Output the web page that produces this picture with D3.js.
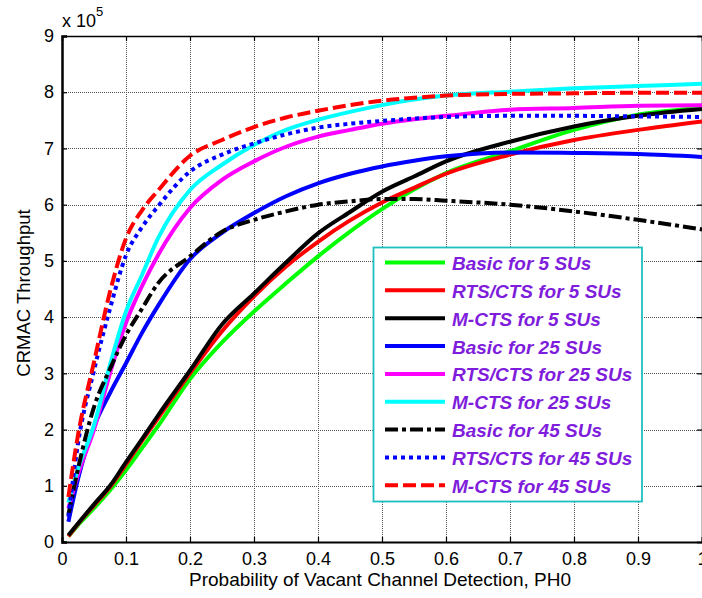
<!DOCTYPE html>
<html><head><meta charset="utf-8">
<script src="https://cdn.jsdelivr.net/npm/d3@7"></script>
<style>
html,body{margin:0;padding:0;background:#fff;}
svg{display:block;font-family:"Liberation Sans",Arial,sans-serif;}
</style></head>
<body>
<svg id="chart" width="702" height="598"></svg>
<script>
// x values: probability of vacant channel detection, PH0
const xValues = [0.01,0.025,0.05,0.075,0.1,0.125,0.15,0.2,0.25,0.3,0.35,0.4,0.45,0.5,0.55,0.6,0.7,0.8,0.9,1.0];
// throughput values in units of 10^5
const basic5   = [0.10,0.30,0.60,0.92,1.28,1.67,2.06,2.90,3.55,4.10,4.60,5.08,5.52,5.92,6.27,6.56,6.95,7.33,7.60,7.72];
const rts5     = [0.10,0.32,0.65,0.98,1.38,1.80,2.20,3.00,3.75,4.37,4.90,5.34,5.72,6.04,6.30,6.55,6.89,7.15,7.33,7.48];
const mcts5    = [0.12,0.33,0.67,1.00,1.42,1.83,2.25,3.05,3.87,4.42,4.97,5.49,5.87,6.23,6.50,6.77,7.12,7.39,7.58,7.70];
const basic25  = [0.36,1.12,2.05,2.65,3.18,3.72,4.20,5.03,5.50,5.85,6.15,6.38,6.55,6.68,6.78,6.86,6.93,6.92,6.90,6.85];
const rts25    = [0.60,1.20,2.00,3.00,3.90,4.55,5.10,5.94,6.44,6.77,7.03,7.21,7.33,7.44,7.52,7.58,7.69,7.72,7.76,7.77];
const mcts25   = [0.70,1.30,2.08,3.15,4.10,4.75,5.40,6.26,6.71,7.06,7.33,7.51,7.65,7.77,7.87,7.94,8.01,8.07,8.11,8.15];
const basic45  = [0.48,1.30,2.40,3.08,3.68,4.15,4.60,5.08,5.52,5.73,5.88,6.00,6.06,6.10,6.10,6.07,6.00,5.88,5.73,5.56];
const rts45    = [0.45,1.75,3.05,4.15,5.10,5.60,5.97,6.59,6.89,7.09,7.25,7.37,7.44,7.49,7.53,7.56,7.58,7.58,7.57,7.56];
const mcts45   = [0.80,1.90,3.20,4.45,5.40,5.90,6.25,6.87,7.15,7.38,7.55,7.67,7.77,7.85,7.90,7.94,7.97,7.98,7.99,7.99];

const seriesNames = ["Basic for 5 SUs","RTS/CTS for 5 SUs","M-CTS for 5 SUs","Basic for 25 SUs","RTS/CTS for 25 SUs","M-CTS for 25 SUs","Basic for 45 SUs","RTS/CTS for 45 SUs","M-CTS for 45 SUs"];
const seriesValues = [basic5,rts5,mcts5,basic25,rts25,mcts25,basic45,rts45,mcts45];
const seriesColors = ["#00ff00","#ff0000","#000000","#0000ff","#ff00ff","#00ffff","#000000","#0000ff","#ff0000"];
const seriesDash = [null,null,null,null,null,null,"13,4,4,4","4,4","13,5"];

const xTicks = [0,0.1,0.2,0.3,0.4,0.5,0.6,0.7,0.8,0.9,1];
const yTicks = [0,1,2,3,4,5,6,7,8,9];

const svg = d3.select("#chart");
const L = 62, R = 702, T = 36, B = 542;
const x = d3.scaleLinear().domain([0,1]).range([L,R]);
const y = d3.scaleLinear().domain([0,9]).range([B,T]);

// grid
const grid = svg.append("g");
grid.selectAll(".gx").data(xTicks.slice(1,-1)).join("line")
  .attr("x1",d=>Math.round(x(d))+0.5).attr("x2",d=>Math.round(x(d))+0.5)
  .attr("y1",T).attr("y2",B)
  .attr("stroke","#555").attr("stroke-width",1).attr("stroke-dasharray","1,1");
grid.selectAll(".gy").data(yTicks.slice(1,-1)).join("line")
  .attr("y1",d=>Math.round(y(d))+0.5).attr("y2",d=>Math.round(y(d))+0.5)
  .attr("x1",L).attr("x2",R)
  .attr("stroke","#555").attr("stroke-width",1).attr("stroke-dasharray","1,1");

// axes with inward ticks
const xAxisB = d3.axisBottom(x).tickValues(xTicks).tickSize(-5).tickPadding(10).tickFormat(d=>d===0?"0":(d===1?"1":d3.format(".1f")(d)));
const xAxisT = d3.axisTop(x).tickValues(xTicks).tickSize(-5).tickFormat("");
const yAxisL = d3.axisLeft(y).tickValues(yTicks).tickSize(-5).tickPadding(8).tickFormat(d3.format("d"));
const yAxisR = d3.axisRight(y).tickValues(yTicks).tickSize(-5).tickFormat("");

function style(g, w){
  g.select(".domain").attr("stroke","#000").attr("stroke-width",w);
  g.selectAll(".tick line").attr("stroke","#000").attr("stroke-width",1.2);
  g.selectAll(".tick text").attr("fill","#000").style("font-size","18px").style("font-family","Liberation Sans, Arial, sans-serif");
}
svg.append("g").attr("transform",`translate(0,${B})`).call(xAxisB).call(g=>style(g,2));
svg.append("g").attr("transform",`translate(0,${T})`).call(xAxisT).call(g=>style(g,1.5));
svg.append("g").attr("transform",`translate(${L},0)`).call(yAxisL).call(g=>style(g,2.5));
svg.append("g").attr("transform",`translate(${R},0)`).call(yAxisR).call(g=>style(g,1.5));

// curves
const line = d3.line().x((d,i)=>x(xValues[i])).y(d=>y(d)).curve(d3.curveMonotoneX);
const curves = svg.append("g");
seriesValues.forEach((vals,i)=>{
  curves.append("path").datum(vals).attr("d",line)
    .attr("fill","none").attr("stroke",seriesColors[i]).attr("stroke-width",4)
    .attr("stroke-dasharray",seriesDash[i]).attr("stroke-linejoin","round");
});

// exponent label
const ex = svg.append("text").attr("x",62).attr("y",27).attr("fill","#000").style("font-size","18px");
ex.append("tspan").text("x 10");
ex.append("tspan").attr("dy",-11).style("font-size","13px").text("5");

// axis labels
svg.append("text").attr("x",380).attr("y",586).attr("text-anchor","middle").style("font-size","19px").attr("fill","#000")
  .text("Probability of Vacant Channel Detection, PH0");
svg.append("text").attr("transform",`translate(30,${(T+B)/2+4}) rotate(-90)`).attr("text-anchor","middle").style("font-size","18.5px").attr("fill","#000")
  .text("CRMAC Throughput");

// legend
const lg = svg.append("g");
lg.append("rect").attr("x",373.5).attr("y",247.5).attr("width",268.5).attr("height",254)
  .attr("fill","#fff").attr("stroke","#1fbfbf").attr("stroke-width",1.8);
seriesNames.forEach((name,i)=>{
  const yy = 262.5 + i*27.85;
  lg.append("line").attr("x1",385).attr("x2",445).attr("y1",yy).attr("y2",yy)
    .attr("stroke",seriesColors[i]).attr("stroke-width",4).attr("stroke-dasharray",seriesDash[i]);
  lg.append("text").attr("x",452).attr("y",yy+7.5).attr("fill","#7f1ddc")
    .style("font-size","19px").style("font-weight","bold").style("font-style","italic").text(name);
});
</script>
</body></html>
